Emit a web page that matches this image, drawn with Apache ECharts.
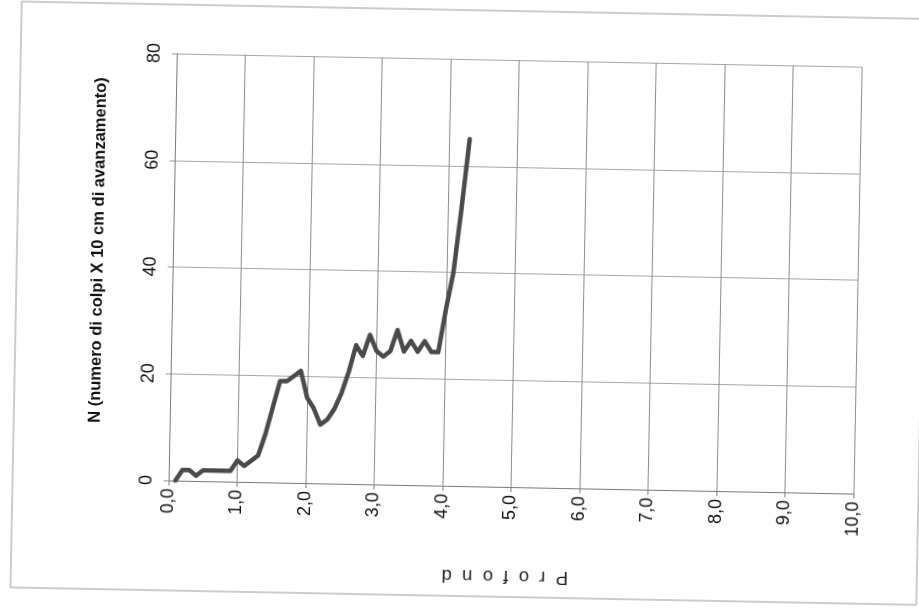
<!DOCTYPE html>
<html>
<head>
<meta charset="utf-8">
<script src="https://cdn.jsdelivr.net/npm/echarts@6/dist/echarts.min.js"></script>
<style>
  html, body { margin: 0; padding: 0; background: #fff; width: 919px; height: 608px; overflow: hidden; }
  /* the sheet sits slightly askew on the page */
  #sheet { position: absolute; left: 0; top: 0; width: 940px; height: 620px;
           transform-origin: 459.5px 304px; transform: rotate(1.1deg); }
  #chart { width: 940px; height: 620px; }
</style>
</head>
<body>
<div id="sheet"><div id="chart"></div></div>
<script>
// Penetrometer log: blow count N per 10 cm of advance vs depth (m)
const depths = [0.1, 0.2, 0.3, 0.4, 0.5, 0.6, 0.7, 0.8, 0.9, 1.0,
                1.1, 1.2, 1.3, 1.4, 1.5, 1.6, 1.7, 1.8, 1.9, 2.0,
                2.1, 2.2, 2.3, 2.4, 2.5, 2.6, 2.7, 2.8, 2.9, 3.0,
                3.1, 3.2, 3.3, 3.4, 3.5, 3.6, 3.7, 3.8, 3.9, 4.0,
                4.1, 4.2, 4.3];
const blows = [0, 2, 2, 1, 2, 2, 2, 2, 2, 4,
               3, 4, 5, 9, 14, 19, 19, 20, 21, 16,
               14, 11, 12, 14, 17, 21, 26, 24, 28, 25,
               24, 25, 29, 25, 27, 25, 27, 25, 25, 33,
               40, 52, 65];
const depthRange = [0, 10];
const depthStep = 1;
const blowRange = [0, 80];
const blowStep = 20;
const yTitle = 'N (numero di colpi X 10 cm di avanzamento)';
const xTitle = 'P  r  o  f  o  n  d';

const points = depths.map((d, i) => [d, blows[i]]);
const labelFont = '"Liberation Sans", Arial, sans-serif';

const chart = echarts.init(document.getElementById('chart'), null, { renderer: 'canvas' });
chart.setOption({
  animation: false,
  backgroundColor: '#fff',
  grid: { left: 172, top: 59, width: 685, height: 427, containLabel: false },
  xAxis: {
    type: 'value',
    min: depthRange[0], max: depthRange[1], interval: depthStep,
    axisLine: { show: true, lineStyle: { color: '#7a7a7a', width: 1 } },
    axisTick: { show: true, length: 5, lineStyle: { color: '#7a7a7a' } },
    axisLabel: {
      rotate: 90, margin: 8, color: '#111', fontSize: 18, fontFamily: labelFont,
      formatter: v => v.toFixed(1).replace('.', ',')
    },
    splitLine: { show: true, lineStyle: { color: '#8c8c8c', width: 1 } }
  },
  yAxis: {
    type: 'value',
    min: blowRange[0], max: blowRange[1], interval: blowStep,
    axisLine: { show: true, lineStyle: { color: '#7a7a7a', width: 1 } },
    axisTick: { show: true, length: 5, lineStyle: { color: '#9a9a9a' } },
    axisLabel: { rotate: 90, margin: 13, color: '#111', fontSize: 18, fontFamily: labelFont },
    splitLine: { show: true, lineStyle: { color: '#a8a8a8', width: 1 } }
  },
  graphic: [
    {
      type: 'rect', silent: true, z: -1,
      shape: { x: 16, y: 10, width: 906, height: 586 },
      style: { fill: 'none', stroke: '#9a9a9a', lineWidth: 1 }
    },
    {
      type: 'text', x: 97, y: 257, rotation: Math.PI / 2,
      style: {
        text: yTitle, textAlign: 'center', textVerticalAlign: 'middle',
        font: 'bold 16.5px "Liberation Sans", Arial, sans-serif', fill: '#111'
      }
    },
    {
      type: 'text', x: 510, y: 575, rotation: Math.PI,
      style: {
        text: xTitle, textAlign: 'center', textVerticalAlign: 'middle',
        font: '18.5px "Liberation Sans", Arial, sans-serif', fill: '#222'
      }
    }
  ],
  series: [{
    type: 'line',
    data: points,
    showSymbol: false,
    symbol: 'none',
    lineStyle: { color: '#4a4a4a', width: 4.5, join: 'round', cap: 'round' },
    z: 3
  }]
});
</script>
</body>
</html>
